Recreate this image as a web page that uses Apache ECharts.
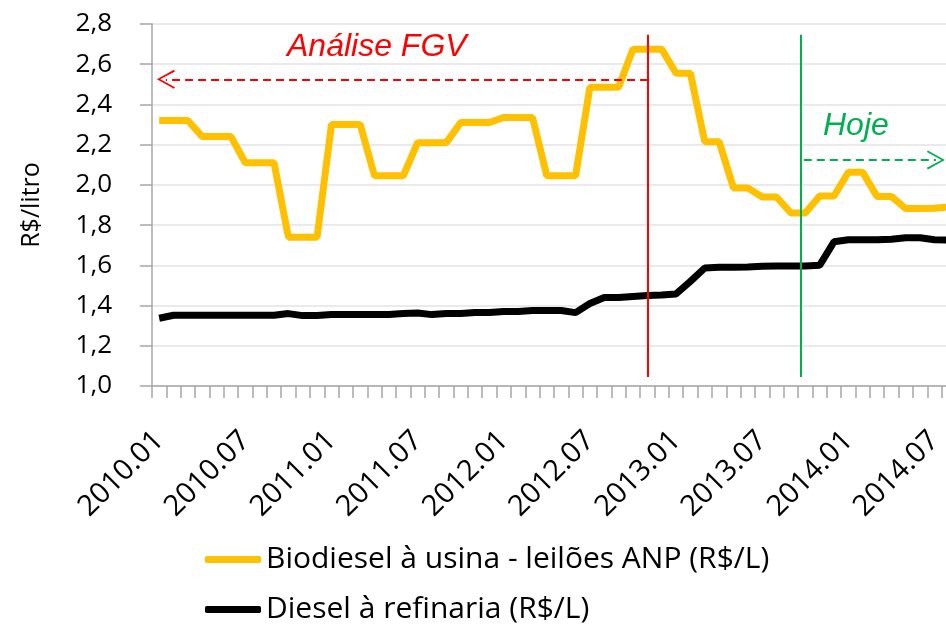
<!DOCTYPE html>
<html>
<head>
<meta charset="utf-8">
<script src="https://cdn.jsdelivr.net/npm/echarts@6/dist/echarts.min.js"></script>
<style>
html,body{margin:0;padding:0;background:#fff;overflow:hidden;}
#chart{width:946px;height:626px;}
</style>
</head>
<body>
<div id="chart"></div>
<script>
var categories = [
  "2010.01","2010.02","2010.03","2010.04","2010.05","2010.06","2010.07","2010.08","2010.09","2010.10","2010.11","2010.12",
  "2011.01","2011.02","2011.03","2011.04","2011.05","2011.06","2011.07","2011.08","2011.09","2011.10","2011.11","2011.12",
  "2012.01","2012.02","2012.03","2012.04","2012.05","2012.06","2012.07","2012.08","2012.09","2012.10","2012.11","2012.12",
  "2013.01","2013.02","2013.03","2013.04","2013.05","2013.06","2013.07","2013.08","2013.09","2013.10","2013.11","2013.12",
  "2014.01","2014.02","2014.03","2014.04","2014.05","2014.06","2014.07","2014.08"
];
var biodiesel = [
  2.32,2.32,2.32, 2.24,2.24,2.24, 2.11,2.11,2.11, 1.74,1.74,1.74,
  2.30,2.30,2.30, 2.045,2.045,2.045, 2.21,2.21,2.21, 2.31,2.31,2.31,
  2.335,2.335,2.335, 2.045,2.045,2.045, 2.485,2.485,2.485, 2.675,2.675,2.675,
  2.555,2.555, 2.215,2.215, 1.985,1.985, 1.94,1.94, 1.86,1.86, 1.945,1.945,
  2.063,2.063, 1.942,1.942, 1.882,1.882,1.884,1.89
];
var diesel = [
  1.337,1.352,1.352,1.352,1.352,1.352,1.352,1.352,1.352,1.36,1.35,1.35,
  1.355,1.355,1.355,1.355,1.355,1.36,1.363,1.355,1.36,1.36,1.365,1.365,
  1.37,1.37,1.375,1.375,1.375,1.365,1.41,1.44,1.44,1.445,1.45,1.452,
  1.458,1.52,1.587,1.59,1.59,1.592,1.595,1.597,1.597,1.597,1.60,1.717,
  1.727,1.727,1.727,1.73,1.737,1.737,1.727,1.725
];
var seriesNames = ["Biodiesel à usina - leilões ANP (R$/L)", "Diesel à refinaria (R$/L)"];
var yTicks = {min: 1.0, max: 2.8, step: 0.2};
// annotation anchors, in fractional month index (0 = 2010.01) and R$/litro
var fgvLineIdx = 34.05, hojeLineIdx = 44.7;
var vLineRange = [1.045, 2.746];
var fgvArrow = {from: 34.05, to: 0.47, value: 2.525};
var hojeArrow = {from: 44.9, to: 54.1, value: 2.124};

var chevron = 'path://M0,18 L10,0 L20,18 L18.3,19 L10,3.6 L1.7,19 Z';

var chart = echarts.init(document.getElementById('chart'), null, {renderer: 'canvas'});
var font = '"Open Sans", "Noto Sans", sans-serif';
chart.setOption({
  animation: false,
  backgroundColor: '#ffffff',
  grid: {left: 152, top: 24, width: 804, height: 362, containLabel: false, outerBoundsMode: 'none'},
  legend: {
    orient: 'vertical', left: 200, top: 537, height: 120, itemGap: 15,
    itemWidth: 56, itemHeight: 7, icon: 'roundRect',
    textStyle: {fontFamily: font, fontSize: 30, lineHeight: 35, color: '#000'},
    data: seriesNames
  },
  xAxis: [{
    type: 'category', data: categories, boundaryGap: true,
    axisLine: {lineStyle: {color: '#a6a6a6', width: 1.5}},
    axisTick: {show: true, interval: 0, length: 12, alignWithLabel: false, lineStyle: {color: '#a6a6a6', width: 1.5}},
    axisLabel: {interval: 5, rotate: 45, margin: 50, fontFamily: font, fontSize: 29, color: '#000', hideOverlap: false},
    splitLine: {show: false}
  }, {
    type: 'value', show: false, min: -0.5, max: categories.length - 0.5,
    splitLine: {show: false}
  }],
  yAxis: {
    type: 'value', min: yTicks.min, max: yTicks.max, interval: yTicks.step,
    name: 'R$/litro', nameLocation: 'middle', nameGap: 108, nameRotate: 90,
    nameTextStyle: {fontFamily: font, fontSize: 25, color: '#000'},
    axisLine: {show: true, onZero: false, lineStyle: {color: '#a6a6a6', width: 1.5}},
    axisTick: {show: true, length: 12, lineStyle: {color: '#a6a6a6', width: 1.5}},
    axisLabel: {margin: 40, fontFamily: font, fontSize: 26, color: '#000',
      formatter: function (v) { return v.toFixed(1).replace('.', ','); }},
    splitLine: {lineStyle: {color: '#e3e3e3', width: 1.5}}
  },
  series: [
    {
      name: seriesNames[0], type: 'line', data: biodiesel, showSymbol: false,
      color: '#FFC000', lineStyle: {color: '#FFC000', width: 7}, z: 3
    },
    {
      name: seriesNames[1], type: 'line', data: diesel, showSymbol: false,
      color: '#000000', lineStyle: {color: '#000000', width: 7}, z: 2
    },
    {
      name: 'annotations', type: 'line', xAxisIndex: 1, data: [], showSymbol: false, z: 4,
      markLine: {
        silent: true, animation: false, label: {show: false},
        data: [
          [{coord: [fgvLineIdx, vLineRange[0]], symbol: 'none', lineStyle: {color: '#FF0000', width: 2, type: 'solid'}},
           {coord: [fgvLineIdx, vLineRange[1]], symbol: 'none'}],
          [{coord: [hojeLineIdx, vLineRange[0]], symbol: 'none', lineStyle: {color: '#00B050', width: 2, type: 'solid'}},
           {coord: [hojeLineIdx, vLineRange[1]], symbol: 'none'}],
          [{coord: [fgvArrow.from, fgvArrow.value], symbol: 'none', lineStyle: {color: '#FF0000', width: 2, type: [8, 5]}},
           {coord: [fgvArrow.to, fgvArrow.value], symbol: chevron, symbolSize: [19, 18], itemStyle: {color: '#FF0000'}}],
          [{coord: [hojeArrow.from, hojeArrow.value], symbol: 'none', lineStyle: {color: '#00B050', width: 2, type: [8, 5]}},
           {coord: [hojeArrow.to, hojeArrow.value], symbol: chevron, symbolSize: [19, 18], itemStyle: {color: '#00B050'}}]
        ]
      }
    }
  ],
  graphic: [
    {type: 'text', left: 287, top: 31, style: {text: 'Análise FGV', fill: '#FF0000',
      font: 'italic 32px "Liberation Sans", Arial, sans-serif'}},
    {type: 'text', left: 823, top: 110, style: {text: 'Hoje', fill: '#00B050',
      font: 'italic 32px "Liberation Sans", Arial, sans-serif'}}
  ]
});
</script>
</body>
</html>
